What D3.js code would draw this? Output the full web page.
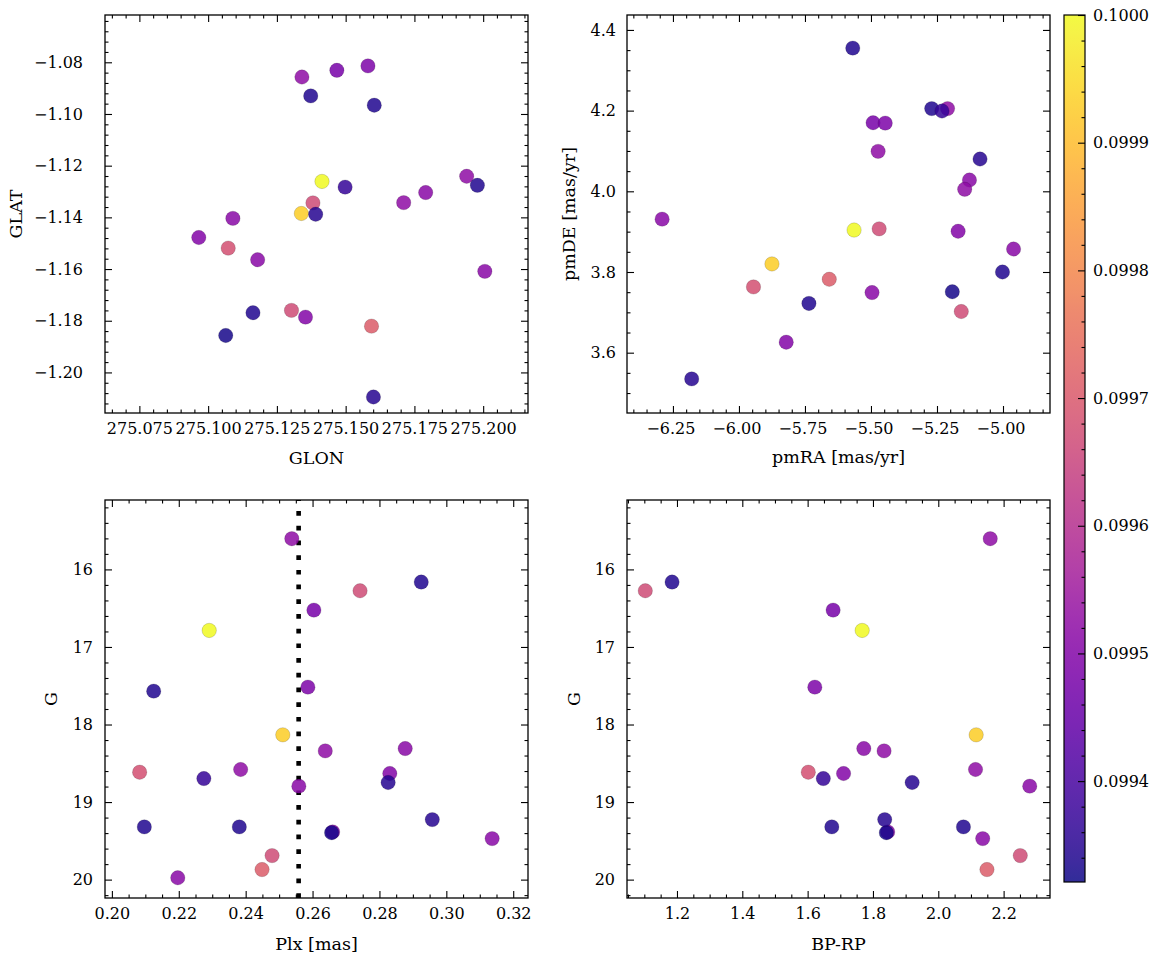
<!DOCTYPE html>
<html><head><meta charset="utf-8">
<script src="https://cdn.jsdelivr.net/npm/d3@7"></script>
<style>
body{margin:0;background:#fff;}
svg{display:block;}
</style></head><body>
<svg id="c" width="1166" height="965"></svg>
<script>
// ---- data (one entry per star) ----
const glon = [275.1341,275.1373,275.1381,275.1468,275.1414,275.1604,275.1581,275.1339,275.1711,275.1791,275.1073,275.1498,275.1940,275.2006,275.0966,275.1391,275.1979,275.1163,275.1354,275.1064,275.1601,275.1090,275.1303,275.1594,275.1180];
const glat = [-1.0857,-1.0930,-1.1344,-1.0831,-1.1261,-1.0966,-1.0814,-1.1385,-1.1343,-1.1304,-1.1519,-1.1283,-1.1241,-1.1609,-1.1478,-1.1388,-1.1276,-1.1769,-1.1786,-1.1857,-1.2095,-1.1404,-1.1760,-1.1821,-1.1564];
const pmra = [-5.210,-5.569,-5.469,-5.492,-5.564,-5.270,-5.446,-5.875,-5.473,-5.127,-5.945,-5.231,-5.145,-6.291,-5.170,-5.087,-5.002,-5.735,-5.821,-5.192,-6.179,-4.960,-5.158,-5.658,-5.496];
const pmde = [4.205,4.355,3.907,4.170,3.904,4.205,4.169,3.820,4.099,4.028,3.763,4.199,4.005,3.931,3.901,4.080,3.800,3.722,3.626,3.751,3.535,3.857,3.702,3.782,3.749];
const plx  = [0.2538,0.2925,0.2742,0.2604,0.2291,0.2125,0.2586,0.2511,0.2638,0.2877,0.2083,0.2275,0.2385,0.2559,0.2831,0.2826,0.2097,0.2381,0.2660,0.2657,0.2958,0.3137,0.2479,0.2449,0.2197];
const gmag = [15.604,16.163,16.275,16.525,16.787,17.570,17.518,18.133,18.340,18.310,18.615,18.697,18.580,18.795,18.632,18.748,19.320,19.320,19.385,19.395,19.226,19.471,19.690,19.870,19.976];
const bprp = [2.159,1.185,1.103,1.678,1.767,null,1.622,2.116,1.834,1.772,1.602,1.648,2.114,2.280,1.710,1.920,1.674,2.077,1.845,1.841,1.836,2.136,2.251,2.149,null];
const prob = [0.09952,0.09934,0.09967,0.09948,0.10000,0.09934,0.09949,0.09993,0.09952,0.09951,0.09968,0.09937,0.09952,0.09951,0.09950,0.09935,0.09934,0.09934,0.09950,0.09933,0.09935,0.09951,0.09967,0.09971,0.09951];
const plxRef = 0.25584;

const probRange = [0.099321, 0.100000];
const glonTicks = [275.075,275.100,275.125,275.150,275.175,275.200];
const glatTicks = [-1.20,-1.18,-1.16,-1.14,-1.12,-1.10,-1.08];
const pmraTicks = [-6.25,-6.00,-5.75,-5.50,-5.25,-5.00];
const pmdeTicks = [3.6,3.8,4.0,4.2,4.4];
const plxTicks = [0.20,0.22,0.24,0.26,0.28,0.30,0.32];
const gTicks = [16,17,18,19,20];
const bprpTicks = [1.2,1.4,1.6,1.8,2.0,2.2];
const probTicks = [0.0994,0.0995,0.0996,0.0997,0.0998,0.0999,0.1000];

const FONT = "DejaVu Serif";
const svg = d3.select("#c");
svg.append("rect").attr("width",1166).attr("height",965).attr("fill","#fff");
const color = d3.scaleSequential(d3.interpolatePlasma).domain(probRange);

function minors(domain, step, majors){
  const [a,b] = d3.extent(domain);
  const out=[];
  for(let i=Math.ceil(a/step-1e-9); i<=Math.floor(b/step+1e-9); i++){
    const v=i*step;
    if(!majors.some(m=>Math.abs(m-v)<step*1e-3)) out.push(v);
  }
  return out;
}

function styleAxis(a){
  a.select(".domain").remove();
  a.attr("font-family",FONT).attr("font-size",16);
  a.selectAll("line").attr("stroke","#000").attr("stroke-width",1.1);
  a.selectAll("text").attr("fill","#000");
  return a;
}

function panel(o){
  const g = svg.append("g").attr("transform",`translate(${o.left},${o.top})`);
  const x = d3.scaleLinear().domain(o.xDomain).range([0,o.w]);
  const y = d3.scaleLinear().domain(o.yDomain).range([o.h,0]);
  const idx = d3.range(o.xs.length).filter(i=>o.xs[i]!=null && o.ys[i]!=null);

  if(o.vline!=null){
    g.append("line").attr("x1",x(o.vline)).attr("x2",x(o.vline))
      .attr("y1",o.h).attr("y2",0).attr("stroke","#000").attr("stroke-width",4.6)
      .attr("stroke-dasharray","4.7 10.0");
  }
  g.selectAll("circle.pt").data(idx).join("circle").attr("class","pt")
    .attr("cx",i=>x(o.xs[i])).attr("cy",i=>y(o.ys[i])).attr("r",7.2)
    .attr("fill",i=>color(prob[i])).attr("fill-opacity",0.85)
    .attr("stroke","#000").attr("stroke-opacity",0.3).attr("stroke-width",0.5);

  const xMin = minors(o.xDomain,o.xMinor,o.xTicks), yMin = minors(o.yDomain,o.yMinor,o.yTicks);
  styleAxis(g.append("g").attr("transform",`translate(0,${o.h})`)
    .call(d3.axisBottom(x).tickValues(o.xTicks).tickSize(-7).tickPadding(10).tickFormat(d3.format(o.xFmt))))
    .selectAll("text").attr("dx",o.xdx||0);
  styleAxis(g.append("g").attr("transform",`translate(0,${o.h})`)
    .call(d3.axisBottom(x).tickValues(xMin).tickSize(-3.5).tickFormat("")));
  styleAxis(g.append("g").call(d3.axisTop(x).tickValues(o.xTicks).tickSize(-7).tickFormat("")));
  styleAxis(g.append("g").call(d3.axisTop(x).tickValues(xMin).tickSize(-3.5).tickFormat("")));
  styleAxis(g.append("g")
    .call(d3.axisLeft(y).tickValues(o.yTicks).tickSize(-7).tickPadding(o.ypad).tickFormat(d3.format(o.yFmt))));
  styleAxis(g.append("g").call(d3.axisLeft(y).tickValues(yMin).tickSize(-3.5).tickFormat("")));
  styleAxis(g.append("g").attr("transform",`translate(${o.w},0)`)
    .call(d3.axisRight(y).tickValues(o.yTicks).tickSize(-7).tickFormat("")));
  styleAxis(g.append("g").attr("transform",`translate(${o.w},0)`)
    .call(d3.axisRight(y).tickValues(yMin).tickSize(-3.5).tickFormat("")));

  g.append("rect").attr("width",o.w).attr("height",o.h).attr("fill","none")
    .attr("stroke","#000").attr("stroke-width",1.3);

  g.append("text").attr("x",o.w/2).attr("y",o.h+o.xlabY).attr("text-anchor","middle")
    .attr("font-family",FONT).attr("font-size",17.5).text(o.xLabel);
  g.append("text").attr("transform",`translate(${o.ylabX},${o.h/2}) rotate(-90)`)
    .attr("text-anchor","middle").attr("dy","0.35em")
    .attr("font-family",FONT).attr("font-size",17.5).text(o.yLabel);
}

const W=423, H=398;
panel({left:105, top:15, w:W, h:H, xs:glon, ys:glat,
  xDomain:[275.0625,275.2163], yDomain:[-1.2157,-1.0617],
  xTicks:glonTicks, yTicks:glatTicks, xMinor:0.005, yMinor:0.004,
  xFmt:".3f", yFmt:".2f", ypad:22, xLabel:"GLON", yLabel:"GLAT", xlabY:51, ylabX:-89});
panel({left:627, top:15, w:W, h:H, xs:pmra, ys:pmde,
  xDomain:[-6.424,-4.822], yDomain:[3.4505,4.437],
  xTicks:pmraTicks, yTicks:pmdeTicks, xMinor:0.05, yMinor:0.05,
  xFmt:".2f", yFmt:".1f", ypad:11, xdx:-2.5, xLabel:"pmRA [mas/yr]", yLabel:"pmDE [mas/yr]", xlabY:50, ylabX:-58});
panel({left:105, top:500, w:W, h:H, xs:plx, ys:gmag,
  xDomain:[0.19794,0.32442], yDomain:[20.237,15.105],
  xTicks:plxTicks, yTicks:gTicks, xMinor:0.005, yMinor:0.2,
  xFmt:".2f", yFmt:"d", ypad:12, xLabel:"Plx [mas]", yLabel:"G", xlabY:52, ylabX:-54, vline:plxRef});
panel({left:627, top:500, w:W, h:H, xs:bprp, ys:gmag,
  xDomain:[1.047,2.342], yDomain:[20.237,15.105],
  xTicks:bprpTicks, yTicks:gTicks, xMinor:0.05, yMinor:0.2,
  xFmt:".1f", yFmt:"d", ypad:12, xLabel:"BP-RP", yLabel:"G", xlabY:52, ylabX:-53});

// ---- colorbar ----
const cb = {left:1064, top:15, w:21, h:867};
const cy = d3.scaleLinear().domain(probRange).range([cb.h,0]);
const defs = svg.append("defs");
const grad = defs.append("linearGradient").attr("id","cbg").attr("x1",0).attr("y1",1).attr("x2",0).attr("y2",0);
d3.range(0,1.0001,0.02).forEach(t=>{
  grad.append("stop").attr("offset",t).attr("stop-color",color(probRange[0]+t*(probRange[1]-probRange[0])));
});
const cg = svg.append("g").attr("transform",`translate(${cb.left},${cb.top})`);
cg.append("rect").attr("width",cb.w).attr("height",cb.h).attr("fill","url(#cbg)").attr("fill-opacity",0.85);
styleAxis(cg.append("g").attr("transform",`translate(${cb.w},0)`)
  .call(d3.axisRight(cy).tickValues(probTicks).tickSize(-7).tickPadding(8).tickFormat(d3.format(".4f"))));
styleAxis(cg.append("g").attr("transform",`translate(${cb.w},0)`)
  .call(d3.axisRight(cy).tickValues(minors(probRange,0.00002,probTicks)).tickSize(-3.5).tickFormat("")));
cg.append("rect").attr("width",cb.w).attr("height",cb.h).attr("fill","none").attr("stroke","#000").attr("stroke-width",1.2);
</script>
</body></html>
